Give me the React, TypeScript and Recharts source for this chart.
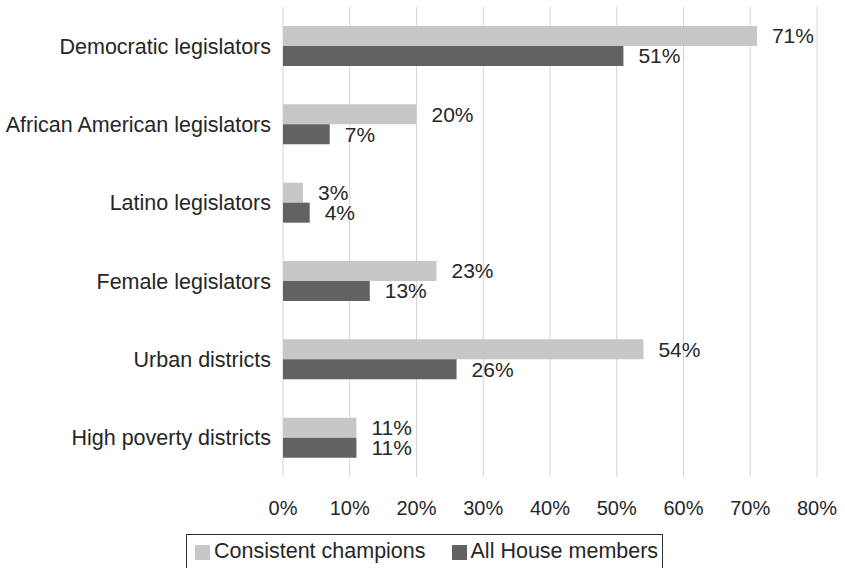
import React from 'react';
import {
  BarChart,
  Bar,
  XAxis,
  YAxis,
  CartesianGrid,
  Legend,
  LabelList,
} from 'recharts';

const categories = [
  'Democratic legislators',
  'African American legislators',
  'Latino legislators',
  'Female legislators',
  'Urban districts',
  'High poverty districts',
];
const championValues = [71, 20, 3, 23, 54, 11];
const houseValues = [51, 7, 4, 13, 26, 11];
const xTicks = [0, 10, 20, 30, 40, 50, 60, 70, 80];

const SERIES = [
  { key: 'champions', name: 'Consistent champions', color: '#c7c7c8' },
  { key: 'house', name: 'All House members', color: '#626263' },
];

const data = categories.map((name, i) => ({
  name,
  champions: championValues[i],
  house: houseValues[i],
}));

const FONT = '"Liberation Sans", Arial, sans-serif';
const TEXT = '#262626';

const LegendBox = () => (
  <div
    style={{
      display: 'flex',
      alignItems: 'center',
      border: '1px solid #333',
      padding: '4px 4px 12px 8px',
      fontFamily: FONT,
      fontSize: 21.5,
      lineHeight: '24px',
      color: TEXT,
      background: '#fff',
      whiteSpace: 'nowrap',
    }}
  >
    {SERIES.map((s, i) => (
      <div key={s.key} style={{ display: 'flex', alignItems: 'center', marginLeft: i ? 26 : 0 }}>
        <span style={{ width: 15, height: 15, background: s.color, marginRight: 4, marginTop: 3, display: 'inline-block' }} />
        {s.name}
      </div>
    ))}
  </div>
);

export default function App() {
  return (
    <div style={{ position: 'absolute', left: 0, top: 0, width: 845, height: 568, background: '#fff', overflow: 'hidden' }}>
      <BarChart
        width={845}
        height={568}
        data={data}
        layout="vertical"
        margin={{ top: 7, right: 28, bottom: 41, left: 0 }}
        barGap={0}
        style={{ fontFamily: FONT }}
      >
        <CartesianGrid horizontal={false} stroke="#d4d4d4" strokeWidth={1} />
        <XAxis
          type="number"
          domain={[0, 80]}
          ticks={xTicks}
          tickFormatter={(v) => `${v}%`}
          axisLine={false}
          tickLine={false}
          tickSize={0}
          tickMargin={24}
          height={50}
          tick={{ fill: TEXT, fontSize: 20 }}
        />
        <YAxis
          type="category"
          dataKey="name"
          width={283}
          axisLine={false}
          tickLine={false}
          tickSize={0}
          tickMargin={12}
          tick={{ fill: TEXT, fontSize: 21.5 }}
        />
        <Legend
          layout="horizontal"
          verticalAlign="middle"
          align="center"
          wrapperStyle={{ top: 534, left: 186, width: 'auto' }}
          content={<LegendBox />}
        />
        {SERIES.map((s) => (
          <Bar key={s.key} dataKey={s.key} name={s.name} fill={s.color} barSize={20} isAnimationActive={false}>
            <LabelList
              dataKey={s.key}
              position="right"
              offset={15}
              formatter={(v: number) => `${v}%`}
              style={{ fill: TEXT, fontSize: 21 }}
            />
          </Bar>
        ))}
      </BarChart>
    </div>
  );
}
